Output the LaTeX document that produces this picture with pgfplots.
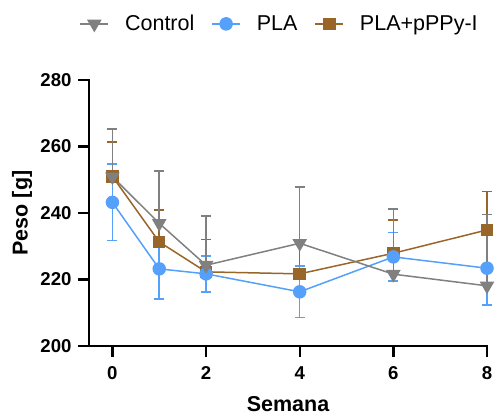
\documentclass[border=0pt]{standalone}
\usepackage{pgfplots}
\pgfplotsset{compat=1.18}
\usepackage{fontspec}
\setmainfont{Liberation Sans}
\definecolor{cgray}{RGB}{128,128,128}
\definecolor{cblue}{RGB}{85,160,250}
\definecolor{cbrown}{RGB}{153,102,41}
\begin{document}
\begin{tikzpicture}[x=1bp,y=1bp]
\path[use as bounding box] (0,0) rectangle (497,416);
\begin{axis}[
  at={(89bp,70bp)}, anchor=south west,
  scale only axis, width=398bp, height=266bp,
  xmin=-0.5, xmax=8, ymin=200, ymax=280,
  xtick={0,2,4,6,8}, ytick={200,220,240,260,280},
  axis x line*=bottom, axis y line*=left,
  axis line style={line width=2.3bp, line cap=rect},
  tick align=outside,
  major tick length=11bp,
  every tick/.style={black, line width=2.3bp},
  /pgf/number format/assume math mode=true,
  tick label style={font=\fontsize{18.6bp}{21bp}\selectfont\bfseries},
  xticklabel style={yshift=-6bp},
  yticklabel style={xshift=-3bp},
  label style={font=\fontsize{21.5bp}{24bp}\selectfont\bfseries},
  xlabel={Semana}, ylabel={Peso [g]},
  xlabel style={at={(axis description cs:0.5,-0.245)}, anchor=base, text depth=0pt},
  ylabel style={at={(axis description cs:-0.168,0.5)}, anchor=center},
  clip=false,
  legend columns=3,
  reverse legend,
  legend style={draw=none, fill=none, at={(0.479,1.211)}, anchor=center,
    font=\fontsize{21.5bp}{24bp}\selectfont,
    /tikz/every odd column/.append style={column sep=14bp},
    /tikz/every even column/.append style={column sep=15bp}},
  legend image code/.code={%
    \draw[mark repeat=2, mark phase=2] plot coordinates {(0bp,0bp) (14bp,0bp) (28bp,0bp)};},
]
% PLA+pPPy-I
\addplot[color=cbrown, line width=1.5bp, mark=square*, mark size=5.5bp,
  mark options={solid, fill=cbrown},
  error bars/.cd, y dir=plus, y explicit,
  error bar style={line width=1.5bp, cbrown},
  error mark options={rotate=90, mark size=5bp, line width=1.5bp, cbrown}]
  table[x=x, y=y, y error=e] {
x y e
0 251.0 10.4
1 231.3 9.6
2 222.3 9.8
4 221.7 10.0
6 227.9 10.0
8 234.9 11.5
};
% PLA
\addplot[color=cblue, line width=1.5bp, mark=*, mark size=6bp,
  mark options={solid, fill=cblue},
  error bars/.cd, y dir=both, y explicit,
  error bar style={line width=1.5bp, cblue},
  error mark options={rotate=90, mark size=5bp, line width=1.5bp, cblue}]
  table[x=x, y=y, y error=e] {
x y e
0 243.2 11.5
1 223.2 9.0
2 221.7 5.4
4 216.3 7.7
6 226.8 7.3
8 223.4 11.1
};
% Control
\addplot[color=cgray, line width=1.5bp, mark=triangle*, mark size=7bp,
  mark options={solid, fill=cgray, rotate=180},
  error bars/.cd, y dir=plus, y explicit,
  error bar style={line width=1.5bp, cgray},
  error mark options={rotate=90, mark size=5bp, line width=1.5bp, cgray}]
  table[x=x, y=y, y error=e] {
x y e
0 250.9 14.3
1 236.9 15.8
2 224.3 14.8
4 230.9 16.9
6 221.6 19.6
8 218.1 21.5
};
\legend{PLA+pPPy-I, PLA, Control}
\end{axis}
\end{tikzpicture}
\end{document}
